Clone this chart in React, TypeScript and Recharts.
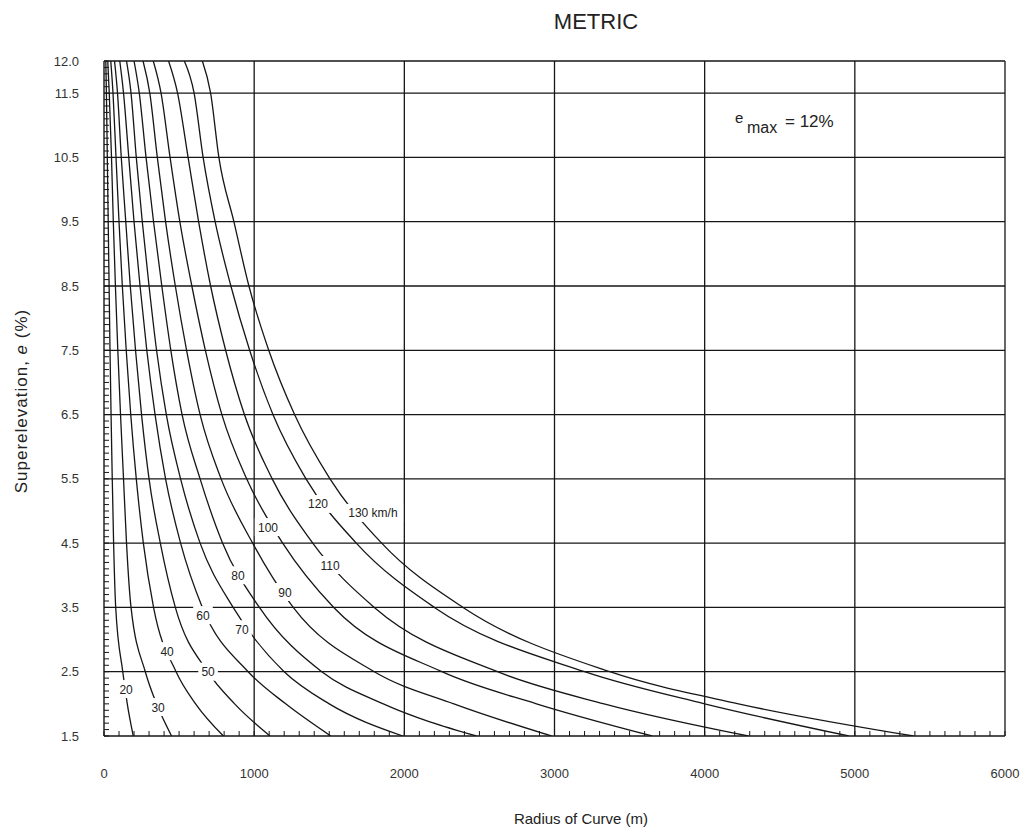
import React from "react";
import { ComposedChart, Line, XAxis, YAxis, ReferenceLine, Scatter } from "recharts";

// design speeds, km/h
const speeds = [20, 30, 40, 50, 60, 70, 80, 90, 100, 110, 120, 130];

const eLevels = [12, 11.5, 10.5, 9.5, 8.5, 7.5, 6.5, 5.5, 4.5, 3.5, 2.5, 2.0, 1.5];

// radius (m) of each speed curve at the e levels above
const radii = [
  [12, 16, 22, 28, 34, 40, 47, 55, 64, 78, 125, 155, 195],
  [25, 35, 50, 62, 76, 92, 110, 130, 150, 180, 275, 350, 450],
  [45, 60, 80, 100, 122, 148, 178, 215, 262, 330, 480, 610, 795],
  [70, 90, 115, 145, 175, 210, 250, 300, 375, 475, 690, 870, 1105],
  [105, 130, 165, 200, 240, 285, 340, 410, 510, 655, 960, 1210, 1510],
  [150, 180, 215, 255, 300, 350, 415, 510, 640, 860, 1200, 1500, 1990],
  [200, 235, 280, 330, 385, 445, 520, 640, 790, 1035, 1450, 1860, 2480],
  [260, 305, 355, 410, 475, 550, 640, 780, 990, 1260, 1800, 2330, 2980],
  [328, 380, 440, 505, 585, 675, 785, 950, 1190, 1530, 2250, 2880, 3650],
  [430, 490, 560, 630, 710, 810, 935, 1120, 1390, 1800, 2620, 3330, 4290],
  [535, 600, 660, 740, 845, 970, 1125, 1345, 1680, 2200, 3200, 4000, 4960],
  [655, 710, 765, 865, 965, 1097, 1269, 1505, 1849, 2391, 3368, 4225, 5390],
];

// in-line curve labels
const labelText = ["20", "30", "40", "50", "60", "70", "80", "90", "100", "110", "120", "130 km/h"];
const labelR = [147, 360, 420, 693, 659, 919, 892, 1205, 1092, 1505, 1425, 1791];
const labelE = [2.23, 1.95, 2.82, 2.5, 3.38, 3.16, 4.0, 3.74, 4.75, 4.16, 5.11, 4.97];

const xMajor = [0, 1000, 2000, 3000, 4000, 5000, 6000];
const yMajor = [1.5, 2.5, 3.5, 4.5, 5.5, 6.5, 7.5, 8.5, 9.5, 10.5, 11.5, 12];

const xMinor: number[] = [];
for (let v = 0; v <= 6000; v += 100) xMinor.push(v);
const yMinor: number[] = [];
for (let i = 15; i <= 120; i++) yMinor.push(i / 10);

const curves = speeds.map((s, i) =>
  eLevels.map((e, j) => ({ r: radii[i][j], e })).reverse()
);
const labels = labelText.map((t, i) => ({ r: labelR[i], e: labelE[i], text: t }));

const INK = "#161616";

function XTick({ x, y, payload }: any) {
  const v = payload.value;
  const major = v % 1000 === 0;
  return (
    <g>
      <line x1={x} x2={x} y1={y} y2={y - 5} stroke={INK} strokeWidth={1} />
      {major && (
        <text x={x} y={y + 42} textAnchor="middle" fontSize={13} fill="#333">
          {v}
        </text>
      )}
    </g>
  );
}

function YTick({ x, y, payload }: any) {
  const v = payload.value;
  const major = Math.round(v * 10) % 10 === 5 || v === 12;
  return (
    <g>
      <line x1={x} x2={x + 5} y1={y} y2={y} stroke={INK} strokeWidth={1} />
      {major && (
        <text x={x - 25} y={y + 4.5} textAnchor="end" fontSize={13} fill="#333">
          {v.toFixed(1)}
        </text>
      )}
    </g>
  );
}

function CurveLabel(props: any) {
  const { cx, cy, payload } = props;
  const w = payload.text.length * 6.8 + 6;
  return (
    <g>
      <rect x={cx - w / 2} y={cy - 9} width={w} height={18} fill="#fff" />
      <text x={cx} y={cy + 4.5} textAnchor="middle" fontSize={12} fill="#222">
        {payload.text}
      </text>
    </g>
  );
}

export default function App() {
  return (
    <div
      style={{
        position: "relative",
        width: 1013,
        height: 826,
        fontFamily: "'Liberation Sans', Arial, sans-serif",
        background: "#fff",
      }}
    >
      <ComposedChart width={1013} height={800} margin={{ top: 53, right: 16, left: 0, bottom: 0 }}>
        <XAxis
          type="number"
          dataKey="r"
          domain={[0, 6000]}
          ticks={xMinor}
          interval={0}
          tickSize={0}
          tickMargin={0}
          tickLine={false}
          tick={<XTick />}
          axisLine={{ stroke: INK, strokeWidth: 1.4 }}
          height={72}
          allowDataOverflow
        />
        <YAxis
          type="number"
          dataKey="e"
          domain={[1.5, 12]}
          ticks={yMinor}
          interval={0}
          tickSize={0}
          tickMargin={0}
          tickLine={false}
          tick={<YTick />}
          axisLine={{ stroke: INK, strokeWidth: 1.4 }}
          width={96}
          allowDataOverflow
        />
        {xMajor.slice(1).map((v) => (
          <ReferenceLine key={"x" + v} x={v} stroke={INK} strokeWidth={1.3} />
        ))}
        {yMajor.slice(1).map((v) => (
          <ReferenceLine key={"y" + v} y={v} stroke={INK} strokeWidth={1.3} />
        ))}
        {curves.map((d, i) => (
          <Line
            key={speeds[i]}
            data={d}
            dataKey="e"
            type="monotone"
            stroke={INK}
            strokeWidth={1.3}
            dot={false}
            activeDot={false}
            isAnimationActive={false}
          />
        ))}
        <Scatter data={labels} shape={<CurveLabel />} isAnimationActive={false} />
      </ComposedChart>
      <svg
        width={1013}
        height={826}
        style={{ position: "absolute", left: 0, top: 0, pointerEvents: "none" }}
      >
        <text x={588} y={21} textAnchor="middle" fontSize={22} fill="#222">
          METRIC
        </text>
        <text x={573} y={816} textAnchor="middle" fontSize={15} fill="#222">
          Radius of Curve (m)
        </text>
        <text
          transform="translate(19,393) rotate(-90)"
          textAnchor="middle"
          fontSize={17}
          letterSpacing={1}
          fill="#222"
        >
          Superelevation, <tspan fontStyle="italic">e</tspan> (%)
        </text>
        <text x={727} y={115} fontSize={15} fill="#222">
          e
        </text>
        <text x={739} y={125} fontSize={16} fill="#222">
          max
        </text>
        <text x={777} y={119} fontSize={17} fill="#222">
          = 12%
        </text>
      </svg>
    </div>
  );
}
